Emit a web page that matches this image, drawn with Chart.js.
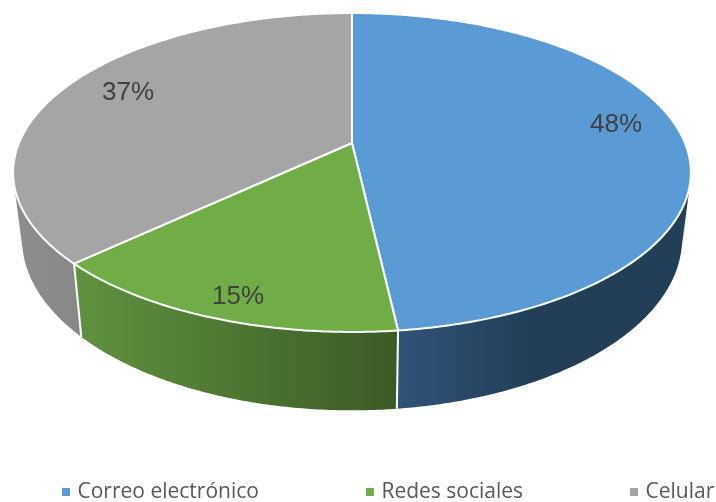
<!DOCTYPE html>
<html>
<head>
<meta charset="utf-8">
<script src="https://cdn.jsdelivr.net/npm/chart.js@4/dist/chart.umd.js"></script>
<style>
  html, body { margin: 0; padding: 0; background: #fff; }
  #wrap { position: relative; width: 716px; height: 502px; }
</style>
</head>
<body>
<div id="wrap"><canvas id="grafico" width="716" height="502"></canvas></div>
<script>
const categorias = ['Correo electrónico', 'Redes sociales', 'Celular'];
const valores = [48.2, 14.8, 37];
const etiquetas = ['48%', '15%', '37%'];

const COLOR_SECTOR = ['#5b9bd5', '#70ad47', '#a5a5a5'];
// degradado horizontal de la pared de cada sector
const COLOR_PARED = [
    ['#305277', '#223f57'],
    ['#5f9240', '#3c5a24'],
    ['#8d8d8d', '#888888']
];
const COLOR_TEXTO = '#404040';
const COLOR_LEYENDA = '#595959';

// proyeccion en perspectiva del disco: apice, radios y factor de fuga
const CX = 352, CY = 143, RX = 333, RY = 154, FUGA = 0.185;
// el borde inferior de la pared es el borde superior escalado
const ESC_X = 0.974, ESC_Y = 1.076, CY_BASE = 207;
// centro de cada porcentaje sobre la tapa
const POS_ETIQUETA = [[616, 124.5], [238, 296.5], [128, 92.5]];

function bordeSuperior(theta) {
    const w = 1 + FUGA * Math.cos(theta);
    return {
        x: CX + RX * Math.sin(theta) / w,
        y: CY - RY * Math.cos(theta) / w
    };
}

function bordeInferior(theta) {
    const p = bordeSuperior(theta);
    return {
        x: CX + (p.x - CX) * ESC_X,
        y: CY_BASE + (p.y - CY) * ESC_Y
    };
}

function trazarBorde(ctx, punto, desde, hasta) {
    const pasos = Math.ceil(Math.abs(hasta - desde) / 0.01);
    for (let i = 0; i <= pasos; i++) {
        const p = punto(desde + (hasta - desde) * i / pasos);
        ctx.lineTo(p.x, p.y);
    }
}

// pared como union de tiras, asi la silueta sale recta entre los dos bordes.
// Todas con la misma orientacion, si no se cancelan al rellenar.
function trazarPared(ctx, desde, hasta) {
    const pasos = Math.ceil((hasta - desde) / 0.01);
    for (let i = 0; i < pasos; i++) {
        const t0 = desde + (hasta - desde) * i / pasos;
        const t1 = desde + (hasta - desde) * (i + 1) / pasos;
        let q = [bordeSuperior(t0), bordeSuperior(t1), bordeInferior(t1), bordeInferior(t0)];
        let area = 0;
        q.forEach((p, j) => {
            const s = q[(j + 1) % 4];
            area += p.x * s.y - s.x * p.y;
        });
        if (area < 0) q = q.reverse();
        ctx.moveTo(q[0].x, q[0].y);
        ctx.lineTo(q[1].x, q[1].y);
        ctx.lineTo(q[2].x, q[2].y);
        ctx.lineTo(q[3].x, q[3].y);
        ctx.closePath();
    }
}

const tarta3d = {
    id: 'tarta3d',
    beforeDatasetsDraw(chart) {
        const ctx = chart.ctx;
        const arcos = chart.getDatasetMeta(0).data;
        const angulos = arcos.map((a) => {
            const { startAngle, endAngle } = a.getProps(['startAngle', 'endAngle'], true);
            return [startAngle + Math.PI / 2, endAngle + Math.PI / 2];
        });
        ctx.save();
        ctx.lineJoin = 'round';
        ctx.strokeStyle = '#ffffff';
        ctx.lineWidth = 2;

        // paredes primero, la tapa las tapa por detras
        angulos.forEach(([ini, fin], i) => {
            const xs = [];
            for (let t = ini; t <= fin; t += 0.01) {
                if (Math.cos(t) < FUGA) xs.push(bordeSuperior(t).x);
            }
            if (!xs.length) return;
            const grad = ctx.createLinearGradient(Math.min(...xs), 0, Math.max(...xs), 0);
            grad.addColorStop(0, COLOR_PARED[i][0]);
            grad.addColorStop(i === 0 ? 0.45 : 1, COLOR_PARED[i][1]);
            if (i === 0) grad.addColorStop(1, COLOR_PARED[i][1]);
            ctx.beginPath();
            trazarPared(ctx, ini, fin);
            ctx.fillStyle = grad;
            ctx.fill();
        });
        // separadores blancos de la pared
        angulos.forEach(([ini]) => {
            const a = bordeSuperior(ini), b = bordeInferior(ini);
            if (Math.cos(ini) > 0) return;
            ctx.beginPath();
            ctx.moveTo(a.x, a.y);
            ctx.lineTo(b.x, b.y);
            ctx.stroke();
        });

        // tapa
        angulos.forEach(([ini, fin], i) => {
            ctx.beginPath();
            ctx.moveTo(CX, CY);
            trazarBorde(ctx, bordeSuperior, ini, fin);
            ctx.closePath();
            ctx.fillStyle = COLOR_SECTOR[i];
            ctx.fill();
            ctx.stroke();
        });

        // porcentajes
        ctx.fillStyle = COLOR_TEXTO;
        ctx.font = '26px "Liberation Sans"';
        ctx.textAlign = 'center';
        ctx.textBaseline = 'middle';
        etiquetas.forEach((txt, i) => {
            ctx.fillText(txt, POS_ETIQUETA[i][0], POS_ETIQUETA[i][1]);
        });

        // leyenda: huecos iguales entre entradas
        ctx.font = '21px "Open Sans"';
        ctx.textAlign = 'left';
        let x = 62;
        categorias.forEach((txt, i) => {
            ctx.fillStyle = COLOR_SECTOR[i];
            ctx.fillRect(x, 488, 8, 8);
            ctx.fillStyle = COLOR_LEYENDA;
            ctx.fillText(txt, x + 15.5, 492);
            x += 15.5 + ctx.measureText(txt).width + 107;
        });
        ctx.restore();
        return false;
    }
};

new Chart(document.getElementById('grafico'), {
    type: 'pie',
    data: {
        labels: categorias,
        datasets: [{
            data: valores,
            backgroundColor: COLOR_SECTOR,
            borderWidth: 0
        }]
    },
    options: {
        responsive: false,
        animation: false,
        plugins: {
            legend: { display: false },
            tooltip: { enabled: false }
        }
    },
    plugins: [tarta3d]
});
</script>
</body>
</html>
